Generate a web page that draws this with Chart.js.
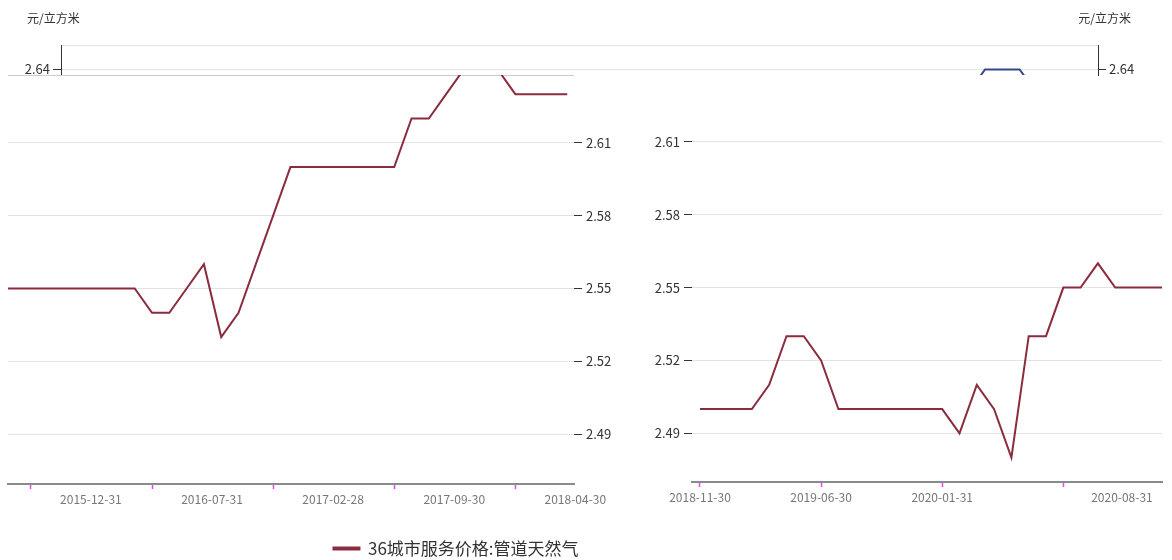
<!DOCTYPE html>
<html lang="zh">
<head>
<meta charset="utf-8">
<title>36城市服务价格:管道天然气</title>
<script src="https://cdn.jsdelivr.net/npm/chart.js@4.4.1/dist/chart.umd.min.js"></script>
<style>
  html, body { margin: 0; padding: 0; background: #fff; overflow: hidden; }
  .layer { position: absolute; left: 0; top: 0; width: 1172px; height: 560px; }
  #leftWrap { height: 567px; }
  .unit { position: absolute; top: 10px; font: 12px/16px "Noto Sans CJK SC", sans-serif; color: #333; white-space: nowrap; }
</style>
</head>
<body>
<div class="layer"><canvas id="topStrip"></canvas></div>
<div class="layer"><canvas id="rightPanel"></canvas></div>
<div class="layer" id="leftWrap"><canvas id="leftPanel"></canvas></div>
<div class="unit" style="left:27px">元/立方米</div>
<div class="unit" style="right:41px">元/立方米</div>
<script>
const seriesName = '36城市服务价格:管道天然气';

// left half: 2015-10 .. 2018-07 (month ends)
const leftMonths = [
    '2015-10-31', '2015-11-30', '2015-12-31',
    '2016-01-31', '2016-02-29', '2016-03-31', '2016-04-30', '2016-05-31', '2016-06-30',
    '2016-07-31', '2016-08-31', '2016-09-30', '2016-10-31', '2016-11-30', '2016-12-31',
    '2017-01-31', '2017-02-28', '2017-03-31', '2017-04-30', '2017-05-31', '2017-06-30',
    '2017-07-31', '2017-08-31', '2017-09-30', '2017-10-31', '2017-11-30', '2017-12-31',
    '2018-01-31', '2018-02-28', '2018-03-31', '2018-04-30', '2018-05-31', '2018-06-30',
    '2018-07-31'
];
const leftValues = [
    2.55, 2.55, 2.55, 2.55, 2.55, 2.55, 2.55, 2.55, 2.55,
    2.54, 2.54, 2.55, 2.56, 2.53, 2.54, 2.56, 2.58,
    2.60, 2.60, 2.60, 2.60, 2.60, 2.60, 2.60,
    2.62, 2.62, 2.63, 2.64, 2.64, 2.64, 2.63, 2.63, 2.63, 2.63
];
const leftTickIdx = [2, 9, 16, 23, 30];

// right half: 2018-11 .. 2021-02
const rightMonths = [
    '2018-11-30', '2018-12-31',
    '2019-01-31', '2019-02-28', '2019-03-31', '2019-04-30', '2019-05-31', '2019-06-30',
    '2019-07-31', '2019-08-31', '2019-09-30', '2019-10-31', '2019-11-30', '2019-12-31',
    '2020-01-31', '2020-02-29', '2020-03-31', '2020-04-30', '2020-05-31', '2020-06-30',
    '2020-07-31', '2020-08-31', '2020-09-30', '2020-10-31', '2020-11-30', '2020-12-31',
    '2021-01-31', '2021-02-28'
];
const rightValues = [
    2.50, 2.50, 2.50, 2.50, 2.51, 2.53, 2.53, 2.52, 2.50,
    2.50, 2.50, 2.50, 2.50, 2.50, 2.50,
    2.49, 2.51, 2.50, 2.48, 2.53, 2.53, 2.55, 2.55, 2.56, 2.55, 2.55, 2.55, 2.55
];
const rightTickIdx = [0, 7, 14, 21];
// the label of the last right tick is drawn further right, without a tick mark
const rightLabelSlot = 24.39;

const yTicks = [2.49, 2.52, 2.55, 2.58, 2.61];
const stripTicks = [2.64, 2.65];

const LINE = '#8b2c3e';
const BLUE = '#36478a';
const PINK = '#f040f0';
const GRID = '#e3e3e3';
const TEXT = '#333';
const NONE = 'rgba(0,0,0,0)';

Chart.defaults.font.family = '"Noto Sans CJK SC", "Noto Sans", sans-serif';
Chart.defaults.color = TEXT;
Chart.defaults.animation = false;
Chart.defaults.maintainAspectRatio = false;
Chart.defaults.plugins.tooltip.enabled = false;
Chart.defaults.elements.point.radius = 0;
Chart.defaults.elements.line.borderWidth = 2;

const xy = arr => arr.map((v, i) => ({ x: i, y: v }));

// top strip: the 2.64 level with both unit axes
new Chart(document.getElementById('topStrip'), {
    type: 'line',
    data: { datasets: [{ label: seriesName, data: xy(leftValues), borderColor: BLUE, backgroundColor: BLUE }] },
    options: {
        layout: { padding: { left: 0, right: 0, top: 45, bottom: 485 } },
        plugins: { legend: { display: false } },
        scales: {
            x: { type: 'linear', display: false, bounds: 'data', min: -26.41, max: 33.53 },
            y: {
                position: 'left', bounds: 'data', min: 2.6377, max: 2.65,
                afterBuildTicks: s => { s.ticks = stripTicks.map(v => ({ value: v })); },
                afterFit: s => { s.width = 61; },
                border: { display: true, color: TEXT },
                grid: { color: GRID, tickLength: 8, tickColor: c => c.tick && c.tick.value < 2.645 ? TEXT : NONE },
                ticks: { padding: 3, font: { size: 13 }, callback: v => v < 2.645 ? v.toFixed(2) : '' }
            },
            y2: {
                position: 'right', bounds: 'data', min: 2.6377, max: 2.65,
                afterBuildTicks: s => { s.ticks = stripTicks.map(v => ({ value: v })); },
                afterFit: s => { s.width = 74; },
                border: { display: true, color: TEXT },
                grid: { drawOnChartArea: false, tickLength: 8, tickColor: c => c.tick && c.tick.value < 2.645 ? TEXT : NONE },
                ticks: { padding: 3, font: { size: 13 }, callback: v => v < 2.645 ? v.toFixed(2) : '' }
            }
        }
    }
});

// right panel, value axis on its left
new Chart(document.getElementById('rightPanel'), {
    type: 'line',
    data: { datasets: [{ label: seriesName, data: xy(rightValues), borderColor: LINE, backgroundColor: LINE }] },
    options: {
        layout: { padding: { left: 600, right: 10, top: 75, bottom: 0 } },
        plugins: { legend: { display: false } },
        scales: {
            x: {
                type: 'linear', bounds: 'data', min: -0.462, max: 26.705,
                afterBuildTicks: s => {
                    s.ticks = rightTickIdx.map(v => ({ value: v })).concat({ value: rightLabelSlot });
                },
                afterFit: s => { s.height = 78; s.paddingLeft = 0; s.paddingRight = 0; },
                border: { display: true, color: '#8a8a8a', width: 2 },
                grid: {
                    drawOnChartArea: false, tickLength: 5, tickWidth: 1.5,
                    tickColor: c => c.tick && c.tick.value === rightLabelSlot ? NONE : PINK
                },
                ticks: {
                    autoSkip: false, maxRotation: 0, color: '#777', font: { size: 12 },
                    callback: v => v === rightLabelSlot ? rightMonths[rightTickIdx[3]] : (v === rightTickIdx[3] ? '' : rightMonths[v])
                }
            },
            y: {
                position: 'left', bounds: 'data', min: 2.47, max: 2.6375,
                afterBuildTicks: s => { s.ticks = yTicks.map(v => ({ value: v })); },
                afterFit: s => { s.width = 92; },
                border: { display: false },
                grid: { color: GRID, tickLength: 8, tickColor: TEXT },
                ticks: { padding: 4, font: { size: 13 }, callback: v => v.toFixed(2) }
            }
        }
    }
});

// left panel, value axis on its right, carries the legend
new Chart(document.getElementById('leftPanel'), {
    type: 'line',
    data: { datasets: [{ label: seriesName, data: xy(leftValues), borderColor: LINE, backgroundColor: LINE }] },
    options: {
        layout: { padding: { left: 8, right: 268, top: 75, bottom: 0 } },
        plugins: {
            legend: {
                position: 'bottom',
                labels: { boxWidth: 26, boxHeight: 2, padding: 10, color: TEXT, font: { size: 17 } }
            }
        },
        scales: {
            x: {
                type: 'linear', bounds: 'data', min: 0.676, max: 33.39,
                afterBuildTicks: s => { s.ticks = leftTickIdx.map(v => ({ value: v })); },
                afterFit: s => { s.height = 46; s.paddingLeft = 0; s.paddingRight = 0; },
                border: { display: true, color: '#8a8a8a', width: 2 },
                grid: { drawOnChartArea: false, tickLength: 5, tickWidth: 1.5, tickColor: PINK },
                ticks: { autoSkip: false, maxRotation: 0, labelOffset: 60, color: '#777', font: { size: 12 }, callback: v => leftMonths[v] }
            },
            y: {
                position: 'right', bounds: 'data', min: 2.4695, max: 2.6379,
                afterBuildTicks: s => { s.ticks = yTicks.map(v => ({ value: v })).concat({ value: s.max }); },
                afterFit: s => { s.width = 330; },
                border: { display: false },
                grid: {
                    color: c => c.tick && c.tick.value > 2.62 ? '#cccccc' : GRID,
                    tickLength: 8,
                    tickColor: c => c.tick && c.tick.value > 2.62 ? NONE : TEXT
                },
                ticks: { padding: 4, font: { size: 13 }, callback: v => v > 2.62 ? '' : v.toFixed(2) }
            }
        }
    }
});
</script>
</body>
</html>
